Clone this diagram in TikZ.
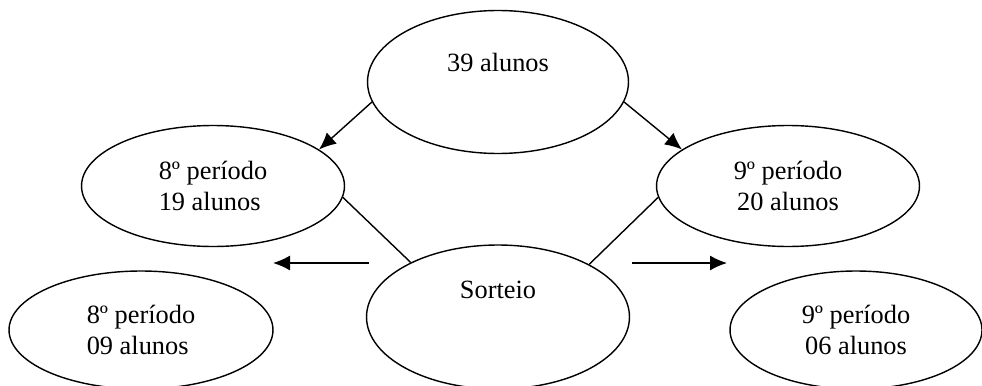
\documentclass[tikz,border=0pt]{standalone}
\usepackage{fontspec}
\setmainfont{Liberation Serif}
\usetikzlibrary{positioning,shapes.geometric,arrows.meta}

\begin{document}
\begin{tikzpicture}[
		x=0.02cm, y=-0.02cm,
		grupo/.style={
			ellipse,
			draw,
			minimum width=5.26cm,
			minimum height=2.42cm,
			inner sep=0pt,
		},
		line width=0.8pt,
		font=\fontsize{15}{17.6}\selectfont,
		>={Latex[length=3.4mm,width=3mm]}
		]
		\useasboundingbox (0,0) rectangle (982,385);
		\clip (0,0) rectangle (982,385);
		% Draw the total
		\node [grupo,minimum width=5.22cm,minimum height=2.86cm,
			label={[yshift=0.4cm]center:39 alunos}] (total) at (498,82) {};
		% Draw the two periods
		\node [grupo,align=left] (p8) at (213,186) {8º período\\19 alunos};
		\node [grupo,align=center] (p9) at (788,186) {9º período\\ 20 alunos};
		\draw[->] (total.189) -- (p8.19);
		\draw[->] (total.-9) -- (p9.161);
		% Draw the draw node
		\node [grupo,minimum height=2.88cm,
			label={[yshift=0.54cm]center:Sorteio}] (sorteio) at (498,317) {};
		\draw (p8.-5) -- (sorteio.148.6);
		\draw (p9.185) -- (sorteio.30);
		% Draw the chosen groups
		\node [grupo,minimum width=5.28cm,minimum height=2.36cm,align=left] (s8) at (141,330) {8º período\\09 alunos};
		\node [grupo,minimum width=5.04cm,minimum height=2.36cm,align=center] (s9) at (856,330) {9º período\\06 alunos};
		\coordinate (s8in) at (273,263);
		\coordinate (s8out) at (369,263);
		\coordinate (s9out) at (632,263);
		\coordinate (s9in) at (727,263);
		\draw[->] (s8out) -- (s8in);
		\draw[->] (s9out) -- (s9in);
	\end{tikzpicture}
\end{document}
